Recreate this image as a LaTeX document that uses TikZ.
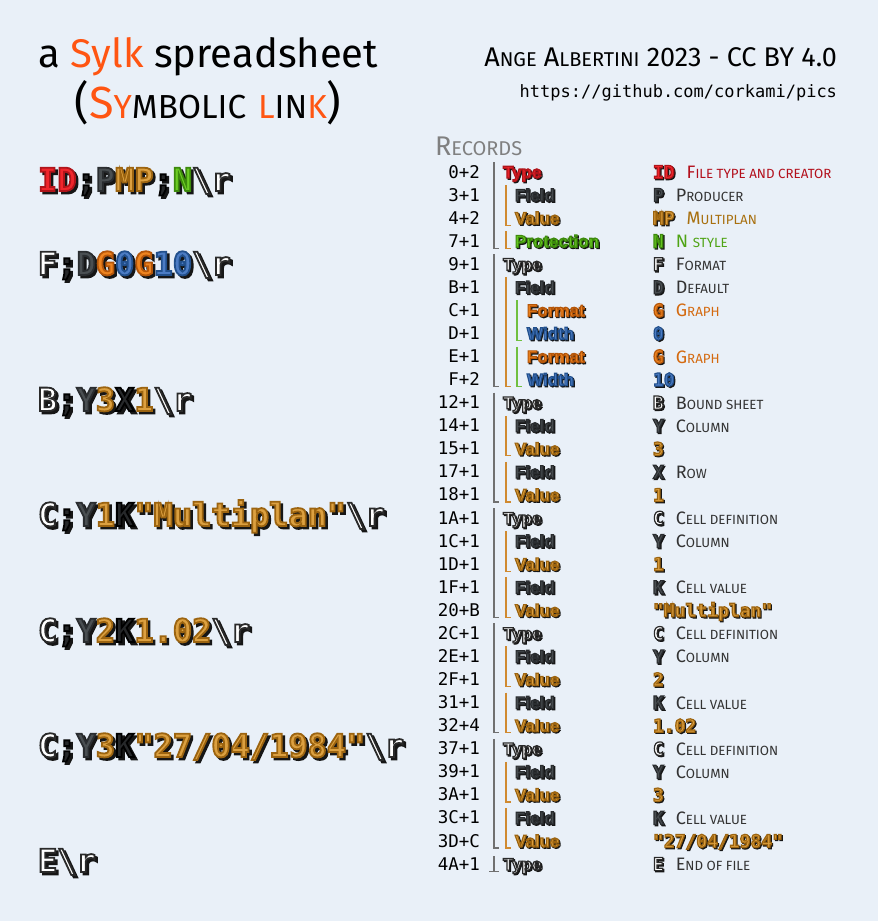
\documentclass[tikz,border=0pt]{standalone}
\usepackage{fontspec}
\usetikzlibrary{positioning,calc}
\setmainfont{Fira Sans}
\newfontfamily\codefont{DejaVu Sans Mono}
\newfontfamily\lblfont{Liberation Sans}

\definecolor{bg}{HTML}{E9F0F8}
\definecolor{shd}{HTML}{161616}
\definecolor{sred}{HTML}{F0262C}
\definecolor{sgray}{HTML}{4A4F52}
\definecolor{sbrown}{HTML}{DCA040}
\definecolor{sgreen}{HTML}{6CCC24}
\definecolor{sorange}{HTML}{EE8420}
\definecolor{sblue}{HTML}{4C7CC4}
\definecolor{swhite}{HTML}{FFFFFF}
\definecolor{sblack}{HTML}{26282A}
\definecolor{titleor}{HTML}{FF5512}
\definecolor{dred}{HTML}{B3101C}
\definecolor{dbrown}{HTML}{A8700F}
\definecolor{dgreen}{HTML}{4FA415}
\definecolor{dorange}{HTML}{D46A10}
\definecolor{dtext}{HTML}{333333}
\definecolor{gline}{HTML}{707070}
\definecolor{oline}{HTML}{D08A30}
\definecolor{lline}{HTML}{70C040}

% outline colours (rgb) for the stroked letters
\newcommand\strokeof[2]{\expandafter\def\csname sk#1\endcsname{#2}}
\strokeof{shd}{0.086 0.086 0.086}
\strokeof{sred}{0.69 0.078 0.102}
\strokeof{sgray}{0.165 0.176 0.188}
\strokeof{sbrown}{0.612 0.392 0.063}
\strokeof{sgreen}{0.235 0.541 0.047}
\strokeof{sorange}{0.706 0.337 0.039}
\strokeof{sblue}{0.133 0.314 0.549}
\strokeof{swhite}{0.165 0.165 0.165}
\strokeof{sblack}{0 0 0}

% coloured token with outline, or plain dark in the shadow pass
\newif\ifshadow
\def\olw{1.6}
\newcommand\outl[2]{\special{pdf:literal direct 2 Tr \olw\space w \csname sk#1\endcsname\space RG}#2\special{pdf:literal direct 0 Tr}}
\newcommand\tk[2]{\ifshadow\textcolor{shd}{\outl{shd}{#2}}\else\textcolor{#1}{\outl{#1}{#2}}\fi}
\newcommand\sm[1]{\scalebox{0.74}{#1}}
\newcommand\shnode[5]{%
  \node[#1, shadowpass] (#2-s) at ($#3+#4$) {#5};
  \node[#1] (#2) at #3 {#5};}
\newcommand\brk[4]{\draw[#1] (#2,{172+23.07*#3-10}) |- ({#2+5},{172+23.07*#4+7});}

\tikzset{every node/.style={inner sep=0pt, outer sep=0pt}}
\tikzset{shadowpass/.style={execute at begin node=\shadowtrue}}
\tikzstyle{ttl}    = [anchor=base west, font=\fontsize{40}{40}\selectfont]
\tikzstyle{author} = [anchor=base east, font=\fontsize{27}{27}\selectfont]
\tikzstyle{url}    = [anchor=base east, font=\codefont\fontsize{17}{17}\selectfont]
\tikzstyle{reclbl} = [anchor=base west, text=gray, font=\fontsize{27}{27}\selectfont]
\tikzstyle{raw}    = [anchor=base west, font=\codefont\bfseries\fontsize{32}{32}\selectfont\def\olw{1.8}]
\tikzstyle{offs}   = [anchor=base east, font=\codefont\fontsize{17.5}{17.5}\selectfont]
\tikzstyle{lbl}    = [anchor=base west, font=\lblfont\bfseries\fontsize{17}{17}\selectfont\def\olw{1.2}]
\tikzstyle{sym}    = [anchor=base west, font=\codefont\bfseries\fontsize{18}{18}\selectfont\def\olw{1.2}]
\tikzstyle{desc}   = [font=\fontsize{18}{18}\selectfont]
\tikzstyle{lv1}    = [gline, line width=1.2pt]
\tikzstyle{lv2}    = [oline, line width=1.2pt]
\tikzstyle{lv3}    = [lline, line width=1.2pt]

\begin{document}
\begin{tikzpicture}[x=1pt,y=-1pt]
\fill[bg] (0,0) rectangle (878,921);
\useasboundingbox (0,0) rectangle (878,921);

% header
\node[ttl] (title) at (38,67) {a \textcolor{titleor}{Sylk} spreadsheet};
\node[ttl, anchor=base, font=\fontsize{45}{45}\selectfont] (sub) at (208,118)
  {(\textcolor{titleor}{S\sm{Y}}\sm{MBOLIC}\ \textcolor{titleor}{\sm{L}}\sm{IN}\textcolor{titleor}{\sm{K}})};
\node[author] (auth) at (837,66) {A\sm{NGE} A\sm{LBERTINI} 2023 - CC BY 4.0};
\node[url] (link) at (837,97) {https://github.com/corkami/pics};
\node[reclbl] (rec) at (435,155) {R\sm{ECORDS}};

% the file, one record per line
\shnode{raw}{raw1}{(38,191)}{(2.5,2.5)}{\tk{sred}{ID}\tk{sblack}{;}\tk{sgray}{P}\tk{sbrown}{MP}\tk{sblack}{;}\tk{sgreen}{N}\tk{swhite}{\textbackslash r}}
\shnode{raw}{raw2}{(38,275)}{(2.5,2.5)}{\tk{swhite}{F}\tk{sblack}{;}\tk{sgray}{D}\tk{sorange}{G}\tk{sblue}{0}\tk{sorange}{G}\tk{sblue}{10}\tk{swhite}{\textbackslash r}}
\shnode{raw}{raw3}{(38,411)}{(2.5,2.5)}{\tk{swhite}{B}\tk{sblack}{;}\tk{sgray}{Y}\tk{sbrown}{3}\tk{sblack}{X}\tk{sbrown}{1}\tk{swhite}{\textbackslash r}}
\shnode{raw}{raw4}{(38,526)}{(2.5,2.5)}{\tk{swhite}{C}\tk{sblack}{;}\tk{sgray}{Y}\tk{sbrown}{1}\tk{sblack}{K}\tk{sbrown}{"Multiplan"}\tk{swhite}{\textbackslash r}}
\shnode{raw}{raw5}{(38,642)}{(2.5,2.5)}{\tk{swhite}{C}\tk{sblack}{;}\tk{sgray}{Y}\tk{sbrown}{2}\tk{sblack}{K}\tk{sbrown}{1.02}\tk{swhite}{\textbackslash r}}
\shnode{raw}{raw6}{(38,757)}{(2.5,2.5)}{\tk{swhite}{C}\tk{sblack}{;}\tk{sgray}{Y}\tk{sbrown}{3}\tk{sblack}{K}\tk{sbrown}{"27/04/1984"}\tk{swhite}{\textbackslash r}}
\shnode{raw}{raw7}{(38,872)}{(2.5,2.5)}{\tk{swhite}{E}\tk{swhite}{\textbackslash r}}

% offsets
\foreach \o [count=\i from 0] in {0+2,3+1,4+2,7+1,9+1,B+1,C+1,D+1,E+1,F+2,12+1,14+1,15+1,17+1,18+1,
    1A+1,1C+1,1D+1,1F+1,20+B,2C+1,2E+1,2F+1,31+1,32+4,37+1,39+1,3A+1,3C+1,3D+C,4A+1}
  \node[offs] (o\i) at (480,{178+23.07*\i}) {\o};

% structure
\foreach \i/\x/\col/\t in {0/503/sred/Type, 1/515/sgray/Field, 2/515/sbrown/Value, 3/515/sgreen/Protection,
    4/503/swhite/Type, 5/515/sgray/Field, 6/527/sorange/Format, 7/527/sblue/Width, 8/527/sorange/Format, 9/527/sblue/Width,
    10/503/swhite/Type, 11/515/sgray/Field, 12/515/sbrown/Value, 13/515/sgray/Field, 14/515/sbrown/Value,
    15/503/swhite/Type, 16/515/sgray/Field, 17/515/sbrown/Value, 18/515/sgray/Field, 19/515/sbrown/Value,
    20/503/swhite/Type, 21/515/sgray/Field, 22/515/sbrown/Value, 23/515/sgray/Field, 24/515/sbrown/Value,
    25/503/swhite/Type, 26/515/sgray/Field, 27/515/sbrown/Value, 28/515/sgray/Field, 29/515/sbrown/Value,
    30/503/swhite/Type}
  {\shnode{lbl}{l\i}{(\x,{178+23.07*\i})}{(1.2,1.2)}{\tk{\col}{\t}}}

\foreach \a/\b in {0/3,4/9,10/14,15/19,20/24,25/29} {\brk{lv1}{494}{\a}{\b}}
\foreach \a/\b in {1/2,3/3,5/9,11/12,13/14,16/17,18/19,21/22,23/24,26/27,28/29} {\brk{lv2}{506}{\a}{\b}}
\foreach \a/\b in {6/7,8/9} {\brk{lv3}{517}{\a}{\b}}
\draw[lv1] (494,{172+23.07*30-8}) -- (494,{172+23.07*30+7});
\draw[lv1] (489,{172+23.07*30+7}) -- (499,{172+23.07*30+7});

% values and meanings
\foreach \i/\col/\t in {0/sred/ID, 1/sgray/P, 2/sbrown/MP, 3/sgreen/N, 4/swhite/F, 5/sgray/D, 6/sorange/G, 7/sblue/0,
    8/sorange/G, 9/sblue/10, 10/swhite/B, 11/sgray/Y, 12/sbrown/3, 13/sgray/X, 14/sbrown/1,
    15/swhite/C, 16/sgray/Y, 17/sbrown/1, 18/sgray/K, 19/sbrown/{"Multiplan"},
    20/swhite/C, 21/sgray/Y, 22/sbrown/2, 23/sgray/K, 24/sbrown/1.02,
    25/swhite/C, 26/sgray/Y, 27/sbrown/3, 28/sgray/K, 29/sbrown/{"27/04/1984"}, 30/swhite/E}
  {\shnode{sym}{r\i}{(653,{178.5+23.07*\i})}{(1.2,1.2)}{\tk{\col}{\t}}}

\foreach \i/\col/\d in {0/dred/{F\sm{ILE TYPE AND CREATOR}}, 1/dtext/{P\sm{RODUCER}}, 2/dbrown/{M\sm{ULTIPLAN}},
    3/dgreen/{N\ \sm{STYLE}}, 4/dtext/{F\sm{ORMAT}}, 5/dtext/{D\sm{EFAULT}}, 6/dorange/{G\sm{RAPH}}, 8/dorange/{G\sm{RAPH}},
    10/dtext/{B\sm{OUND SHEET}}, 11/dtext/{C\sm{OLUMN}}, 13/dtext/{R\sm{OW}},
    15/dtext/{C\sm{ELL DEFINITION}}, 16/dtext/{C\sm{OLUMN}}, 18/dtext/{C\sm{ELL VALUE}},
    20/dtext/{C\sm{ELL DEFINITION}}, 21/dtext/{C\sm{OLUMN}}, 23/dtext/{C\sm{ELL VALUE}},
    25/dtext/{C\sm{ELL DEFINITION}}, 26/dtext/{C\sm{OLUMN}}, 28/dtext/{C\sm{ELL VALUE}}, 30/dtext/{E\sm{ND OF FILE}}}
  \node[desc, text=\col, base right=12pt of r\i] (d\i) {\d};
\end{tikzpicture}
\end{document}
